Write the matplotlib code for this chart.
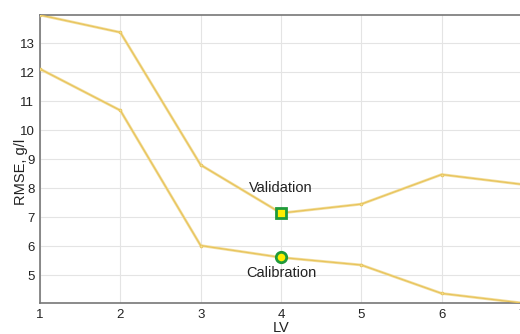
import matplotlib
matplotlib.use("Agg")
import matplotlib.pyplot as plt

lv = [1, 2, 3, 4, 5, 6, 7]
validation = [13.98, 13.38, 8.81, 7.15, 7.46, 8.48, 8.14]
calibration = [12.12, 10.69, 6.03, 5.62, 5.36, 4.38, 4.05]
yticks = [5, 6, 7, 8, 9, 10, 11, 12, 13]
sel_lv = 4

plt.rcParams['font.family'] = ['Liberation Sans', 'DejaVu Sans']

fig = plt.figure(figsize=(5.2, 3.34), dpi=100)
ax = fig.add_axes([40/520, 1-303/334, 482/520, 288/334])

line_col = '#e8c45c'
for ys in (validation, calibration):
    ax.plot(lv, ys, color='#f3dfa0', lw=2.0, zorder=2, solid_capstyle='round')
    ax.plot(lv, ys, color=line_col, lw=0.9, marker='o', ms=2.0, mfc='#f5e08a',
            mec=line_col, mew=0.6, zorder=3)

i = lv.index(sel_lv)
ax.plot([sel_lv], [validation[i]], marker='s', ms=7, mfc='#ffee00', mec='#1f9a3a', mew=2, zorder=5)
ax.plot([sel_lv], [calibration[i]], marker='o', ms=7.5, mfc='#ffee00', mec='#1f9a3a', mew=2, zorder=5)
ax.text(sel_lv, validation[i] + 0.62, 'Validation', ha='center', va='bottom', fontsize=10.5, color='#222222')
ax.text(sel_lv, calibration[i] - 0.28, 'Calibration', ha='center', va='top', fontsize=10.5, color='#222222')

ax.set_xlim(1, 7)
ax.set_ylim(min(calibration), max(validation))
ax.set_xticks(lv)
ax.set_yticks(yticks)
ax.grid(True, color='#e4e4e4', lw=0.8)
ax.set_axisbelow(True)
ax.tick_params(length=0, labelsize=9.5, colors='#222222', pad=4)
for s in ('left', 'bottom', 'top'):
    ax.spines[s].set_color('#777777')
    ax.spines[s].set_linewidth(1.2)
ax.spines['right'].set_visible(False)
ax.set_xlabel('LV', fontsize=10.5, color='#222222', labelpad=0)
ax.set_ylabel('RMSE, g/l', fontsize=10.5, color='#222222')
ax.yaxis.set_label_coords(-0.025, 0.455)

fig.savefig('out.png', dpi=100)
